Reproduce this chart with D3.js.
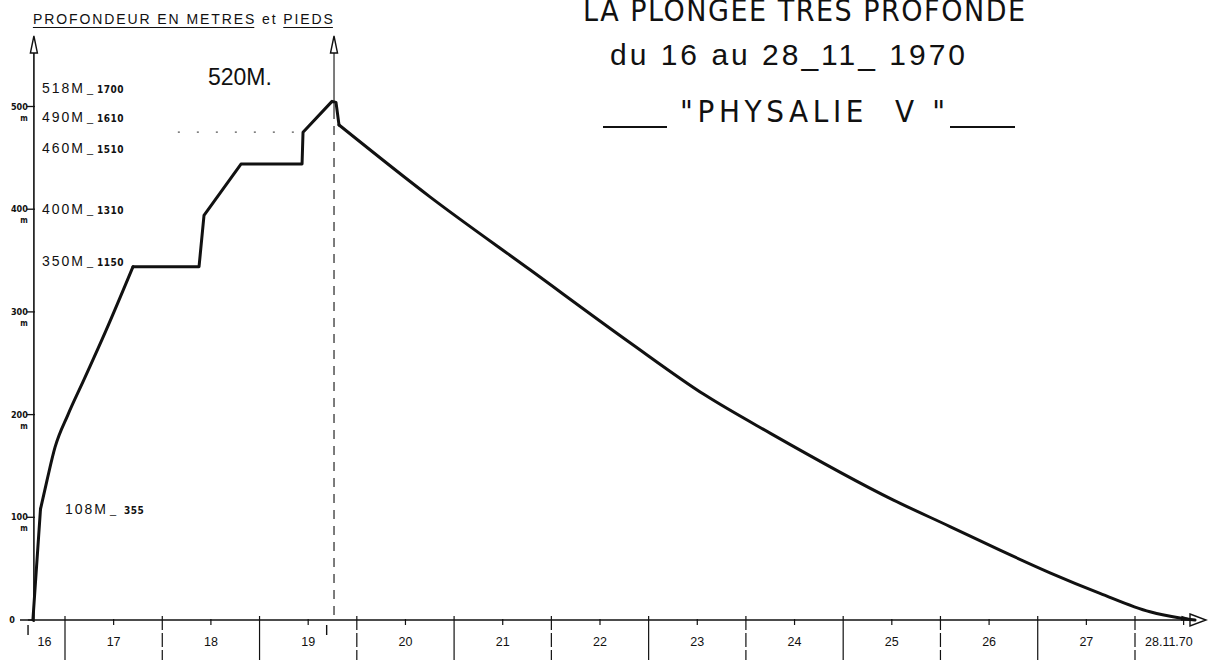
<!DOCTYPE html>
<html lang="fr">

<head>
    <meta charset="UTF-8">
    <title>Physalie V</title>
    <style>
        body { margin: 0; background: #fff; }
        svg text { font-family: "Liberation Sans", "DejaVu Sans", sans-serif; fill: #111; }
        .narrow { font-family: "Liberation Sans Narrow", "DejaVu Sans Condensed", sans-serif; font-weight: bold; }
        .thin { font-family: "Liberation Sans Narrow", "DejaVu Sans Condensed", sans-serif; }
    </style>
</head>

<body>
    <svg width="1221" height="660" id="svg"></svg>
    <script src="https://d3js.org/d3.v7.min.js"></script>
    <script>
        // temps en jours depuis le 16/11 0h, profondeur en metres
        const dayTime = [0.67, 0.748, 0.815, 0.897, 1.031, 1.195, 1.422, 1.699, 2.378, 2.429, 2.809, 3.437, 3.447, 3.745, 3.786, 3.817,
            4.752, 5.781, 6.809, 7.580, 8.248, 9.512, 10.098, 10.612, 11.126, 11.640, 12.154, 12.463, 12.617]
        const depth = [0, 108, 136, 168, 200, 234, 282, 344, 344, 394, 444, 444, 475, 505, 504, 482,
            412, 341, 270, 219, 182, 117, 91, 68, 46, 26, 8, 2, 0]
        const dayLabels = ["16", "17", "18", "19", "20", "21", "22", "23", "24", "25", "26", "27", "28.11.70"]
        const yTicks = [100, 200, 300, 400, 500]
        const stopDepths = [518, 490, 460, 400, 350, 108]
        const stopFeet = ["1700", "1610", "1510", "1310", "1150", "355"]
        const markTimes = [0.62, 3.69]
        const titleLines = ["LA PLONGEE TRES PROFONDE", "du 16 au 28_11_ 1970", "\"PHYSALIE  V \""]

        const svg = d3.select("svg#svg")
        const xScale = d3.scaleLinear().domain([1, 12]).range([65, 1135])
        const yScale = d3.scaleLinear().domain([0, 500]).range([620, 106.5])
        const x0 = xScale(dayTime[0]) + 1
        const y0 = yScale(0)
        const ink = "#111"

        // axe vertical + axe horizontal
        svg.append("line").attr("x1", x0).attr("x2", x0).attr("y1", y0 + 2).attr("y2", 40)
            .attr("stroke", ink).attr("stroke-width", 1.6)
        svg.append("line").attr("x1", 20).attr("x2", 1192).attr("y1", y0).attr("y2", y0)
            .attr("stroke", ink).attr("stroke-width", 1.6)

        function arrowUp(x) {
            svg.append("path").attr("d", `M${x - 3.5},53 L${x},36 L${x + 3.5},53 Z`)
                .attr("fill", "#fff").attr("stroke", ink).attr("stroke-width", 1.4)
        }
        arrowUp(x0)
        svg.append("path").attr("d", `M1190,${y0 - 6} L1206,${y0} L1190,${y0 + 6} Z`)
            .attr("fill", "#fff").attr("stroke", ink).attr("stroke-width", 1.4)

        // graduations verticales
        const yt = svg.append("g")
        yt.selectAll("line").data(yTicks).join("line")
            .attr("x1", x0 - 7).attr("x2", x0 + 1)
            .attr("y1", d => yScale(d)).attr("y2", d => yScale(d))
            .attr("stroke", ink).attr("stroke-width", 1.3)
        yt.selectAll("text.v").data(yTicks).join("text").attr("class", "v narrow")
            .attr("x", x0 - 6).attr("y", d => yScale(d) + 3)
            .attr("text-anchor", "end").attr("font-size", 9).text(d => d)
        yt.selectAll("text.m").data(yTicks).join("text").attr("class", "m narrow")
            .attr("x", x0 - 10).attr("y", d => yScale(d) + 14)
            .attr("text-anchor", "middle").attr("font-size", 8).text("m")
        svg.append("text").attr("class", "narrow").attr("x", 12).attr("y", y0 + 3)
            .attr("text-anchor", "middle").attr("font-size", 9).text("0")
        svg.append("line").attr("x1", x0 - 6).attr("x2", x0).attr("y1", y0).attr("y2", y0)
            .attr("stroke", ink).attr("stroke-width", 1.3)

        // paliers (metres et pieds)
        const stops = svg.append("g")
        stopDepths.forEach((d, i) => {
            const t = stops.append("text")
                .attr("x", d < 200 ? x0 + 31 : x0 + 8)
                .attr("y", yScale(d) + 5)
                .attr("font-size", 14)
            t.append("tspan").attr("letter-spacing", 2).text(d + "M")
            t.append("tspan").attr("dx", 2).attr("font-size", 11).text("_")
            t.append("tspan").attr("class", "narrow").attr("dx", d < 200 ? 8 : 4).attr("font-size", 10)
                .attr("letter-spacing", 0.5).text(stopFeet[i])
        })

        // graduations des jours
        const days = d3.range(1, 13)
        const noons = d3.range(1, 13).map(d => d + 0.5)
        const xt = svg.append("g")
        xt.selectAll("line.day").data(days).join("line").attr("class", "day")
            .attr("x1", d => xScale(d)).attr("x2", d => xScale(d))
            .attr("y1", y0 - 4).attr("y2", 660)
            .attr("stroke", ink).attr("stroke-width", 1.2)
            .attr("stroke-dasharray", (d, i) => i % 2 ? "14,3" : null)
        xt.selectAll("line.noon").data(noons).join("line").attr("class", "noon")
            .attr("x1", d => xScale(d)).attr("x2", d => xScale(d))
            .attr("y1", y0 - 1).attr("y2", y0 + 5)
            .attr("stroke", ink).attr("stroke-width", 1.2)
        xt.selectAll("line.mark").data(markTimes).join("line").attr("class", "mark")
            .attr("x1", d => xScale(d)).attr("x2", d => xScale(d))
            .attr("y1", y0 + 5).attr("y2", y0 + 15)
            .attr("stroke", ink).attr("stroke-width", 1.4)
        xt.selectAll("text").data(dayLabels).join("text")
            .attr("x", (d, i) => i === 0 ? (x0 + xScale(1)) / 2 - 5 : i === 12 ? xScale(12) + 10 : xScale(i + 0.5))
            .attr("y", y0 + 26)
            .attr("text-anchor", (d, i) => i === 12 ? "start" : "middle")
            .attr("font-size", 12.5)
            .text(d => d)

        // trait vertical au maximum
        const iMax = depth.indexOf(d3.max(depth))
        const xMax = xScale(dayTime[iMax]) + 2
        svg.append("line").attr("x1", xMax).attr("x2", xMax).attr("y1", 40).attr("y2", 110)
            .attr("stroke", ink).attr("stroke-width", 1.1)
        svg.append("line").attr("x1", xMax).attr("x2", xMax).attr("y1", 110).attr("y2", y0)
            .attr("stroke", ink).attr("stroke-width", 1.1).attr("stroke-dasharray", "9,7")
        arrowUp(xMax)

        // pointilles au palier 490
        svg.append("line").attr("x1", xScale(2.16)).attr("x2", xScale(dayTime[12]))
            .attr("y1", yScale(depth[12])).attr("y2", yScale(depth[12]))
            .attr("stroke", "#555").attr("stroke-width", 1.2).attr("stroke-dasharray", "2,17")

        // profil de la plongee : compression (courbe), paliers, decompression (courbe)
        svg.append("defs").append("marker").attr("id", "tip")
            .attr("viewBox", "0 0 14 6").attr("refX", 14).attr("refY", 3)
            .attr("markerWidth", 14).attr("markerHeight", 6).attr("markerUnits", "userSpaceOnUse")
            .attr("orient", "auto")
            .append("path").attr("d", "M0,0.5 L14,3 L0,5.5 Z").attr("fill", ink)
        const pts = dayTime.map((t, i) => [t, depth[i]])
        const pieces = [[0, 1, d3.curveLinear], [1, 7, d3.curveMonotoneX], [7, 15, d3.curveLinear], [15, 28, d3.curveMonotoneX]]
        pieces.forEach(([a, b, curve], k) => {
            const line = d3.line().x(d => xScale(d[0])).y(d => yScale(d[1])).curve(curve)
            const p = svg.append("path").attr("d", line(pts.slice(a, b + 1)))
                .attr("fill", "none").attr("stroke", ink).attr("stroke-width", 3)
                .attr("stroke-linejoin", "round").attr("stroke-linecap", "round")
            if (k === pieces.length - 1) p.attr("marker-end", "url(#tip)")
        })

        // textes
        const head = svg.append("text").attr("x", x0 - 1).attr("y", 24).attr("font-size", 14)
            .attr("textLength", 300).attr("lengthAdjust", "spacing")
            .text("PROFONDEUR EN METRES et PIEDS")
        const hn = head.node()
        function underline(a, b) {
            const s = hn.getExtentOfChar(a), e = hn.getExtentOfChar(b)
            svg.append("line").attr("x1", s.x).attr("x2", e.x + e.width).attr("y1", 27.5).attr("y2", 27.5)
                .attr("stroke", ink).attr("stroke-width", 1.1)
        }
        underline(0, 19)
        underline(24, 28)

        svg.append("text").attr("x", 208).attr("y", 85).attr("font-size", 23).text("520M.")

        svg.append("text").attr("class", "thin").attr("x", 583).attr("y", 21).attr("font-size", 30)
            .attr("textLength", 442).attr("lengthAdjust", "spacing").text(titleLines[0])
        svg.append("text").attr("x", 610).attr("y", 65).attr("font-size", 30)
            .attr("textLength", 355).attr("lengthAdjust", "spacing").text(titleLines[1])
        svg.append("text").attr("class", "thin").attr("x", 680).attr("y", 122).attr("font-size", 31)
            .style("white-space", "pre")
            .attr("textLength", 265).attr("lengthAdjust", "spacing").text(titleLines[2])
        svg.append("line").attr("x1", 603).attr("x2", 667).attr("y1", 127).attr("y2", 127)
            .attr("stroke", ink).attr("stroke-width", 2)
        svg.append("line").attr("x1", 950).attr("x2", 1015).attr("y1", 127).attr("y2", 127)
            .attr("stroke", ink).attr("stroke-width", 2)
    </script>
</body>

</html>
